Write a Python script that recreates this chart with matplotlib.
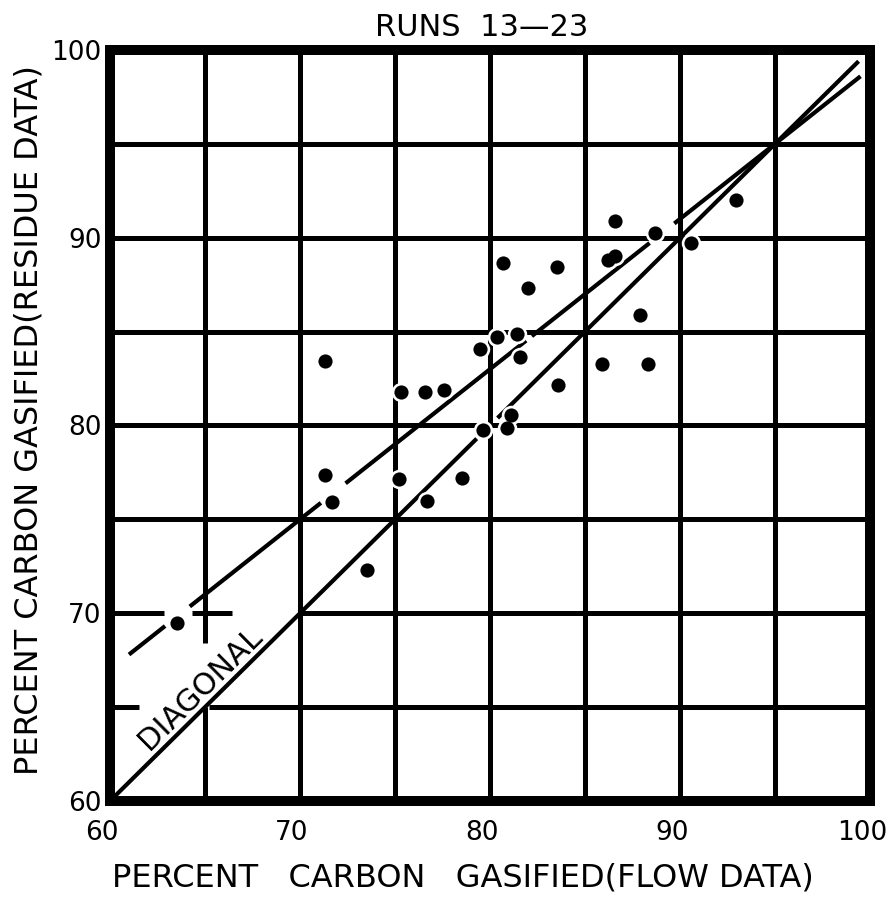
import matplotlib
matplotlib.use("Agg")
import matplotlib.pyplot as plt
import matplotlib.transforms as mtransforms
import numpy as np

# percent carbon gasified, runs 13-23
flow = [63.5, 71.3, 75.3, 76.6, 77.6, 79.45, 80.35, 81.4, 81.6, 83.6, 81.1,
        79.65, 80.9, 71.3, 75.2, 78.55, 71.7, 76.7, 73.55, 86.6, 88.7, 92.95,
        90.6, 86.2, 86.6, 80.7, 83.5, 82.0, 87.9, 85.9, 88.3]
residue = [69.5, 83.45, 81.8, 81.8, 81.9, 84.05, 84.7, 84.9, 83.65, 82.15, 80.55,
           79.75, 79.85, 77.35, 77.15, 77.2, 75.95, 76.0, 72.3, 90.9, 90.25, 92.0,
           89.7, 88.8, 89.05, 88.65, 88.45, 87.35, 85.9, 83.3, 83.3]

# hand drawn fit line, y = slope*x + intercept, drawn in pieces with gaps
fit_slope = 0.8
fit_intercept = 19.0
fit_segments = [(61.0, 62.9), (64.2, 71.1), (72.4, 81.9), (82.2, 88.4), (89.7, 99.5)]
diag_segments = [(60.0, 79.3), (80.4, 99.4)]

tick_vals = [60, 70, 80, 90, 100]
tick_labels = ["60", "70", "80", "90", "100"]

# grid lines every 5 units; a few are broken in the lower left corner
vgrid = {65: [(60, 65), (68.4, 100)], 70: [(60, 100)], 75: [(60, 100)],
         80: [(60, 100)], 85: [(60, 100)], 90: [(60, 100)], 95: [(60, 100)]}
hgrid = {65: [(60, 61.5), (65.2, 100)], 70: [(60, 62.85), (64.3, 66.4), (70, 100)],
         75: [(60, 100)], 80: [(60, 100)], 85: [(60, 100)], 90: [(60, 100)],
         95: [(60, 100)]}

fig = plt.figure(figsize=(8.92, 9.01), dpi=100)
ax = fig.add_axes([110 / 892, 100 / 901, 760 / 892, 751 / 901])
ax.set_xlim(60, 100)
ax.set_ylim(60, 100)

for x, segs in vgrid.items():
    for a, b in segs:
        ax.plot([x, x], [a, b], color="black", lw=3.6, solid_capstyle="butt", zorder=1)
for y, segs in hgrid.items():
    for a, b in segs:
        ax.plot([a, b], [y, y], color="black", lw=3.6, solid_capstyle="butt", zorder=1)

for a, b in fit_segments:
    xs = np.array([a, b])
    ax.plot(xs, fit_slope * xs + fit_intercept, color="black", lw=3.0,
            solid_capstyle="butt", zorder=2)
for a, b in diag_segments:
    ax.plot([a, b], [a, b], color="black", lw=3.0, solid_capstyle="butt", zorder=2)

# white halo first, then the dots
ax.plot(flow, residue, "o", ms=14, color="white", mew=0, zorder=4)
ax.plot(flow, residue, "o", ms=10.2, color="black", mew=0, zorder=5)

ax.text(64.75, 66.0, "DIAGONAL", rotation=44.7, rotation_mode="anchor",
        ha="center", va="center", fontsize=22, zorder=3)

for s in ax.spines.values():
    s.set_linewidth(7.2)
    s.set_zorder(6)

ax.set_xticks(tick_vals, tick_labels)
ax.set_yticks(tick_vals, tick_labels)
ax.tick_params(axis="x", length=0, pad=14, labelsize=19)
ax.tick_params(axis="y", length=0, pad=6, labelsize=19)
shift = mtransforms.ScaledTranslation(-0.08, 0, fig.dpi_scale_trans)
for lab in ax.get_xticklabels():
    lab.set_transform(lab.get_transform() + shift)

fig.text(482 / 892, 1 - 27.5 / 901, "RUNS  13\u201423", ha="center", va="center", fontsize=22)
fig.text(463 / 892, 1 - 878 / 901, "PERCENT   CARBON   GASIFIED(FLOW DATA)",
         ha="center", va="center", fontsize=23)
fig.text(29 / 892, 1 - 420 / 901, "PERCENT CARBON GASIFIED(RESIDUE DATA)",
         rotation=90, ha="center", va="center", fontsize=23)

fig.savefig("out.png", dpi=100)
